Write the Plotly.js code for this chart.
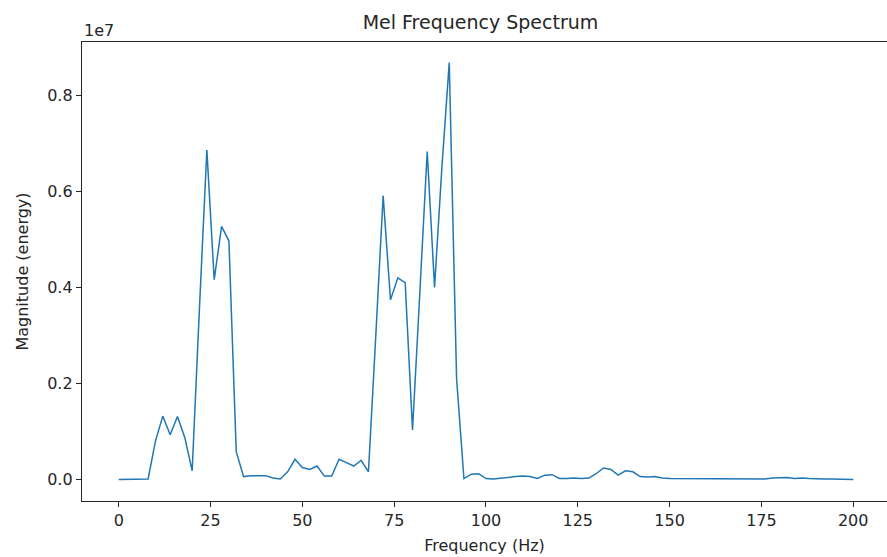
<!DOCTYPE html>
<html>
<head>
<meta charset="utf-8">
<script src="https://cdn.plot.ly/plotly-3.0.1.min.js"></script>
<style>
  html, body { margin: 0; padding: 0; background: #ffffff; }
  #chart { width: 887px; height: 557px; }
</style>
</head>
<body>
<div id="chart"></div>
<script>
// Frequency bins (Hz)
var frequency = [
  0, 2, 4, 6, 8, 10, 12, 14, 16, 18,
  20, 22, 24, 26, 28, 30, 32, 34, 36, 38,
  40, 42, 44, 46, 48, 50, 52, 54, 56, 58,
  60, 62, 64, 66, 68, 70, 72, 74, 76, 78,
  80, 82, 84, 86, 88, 90, 92, 94, 96, 98,
  100, 102, 104, 106, 108, 110, 112, 114, 116, 118,
  120, 122, 124, 126, 128, 130, 132, 134, 136, 138,
  140, 142, 144, 146, 148, 150, 152, 154, 156, 158,
  160, 162, 164, 166, 168, 170, 172, 174, 176, 178,
  180, 182, 184, 186, 188, 190, 192, 194, 196, 198,
  200
];

// Magnitude (energy), in units of 1e7
var magnitude_1e7 = [
  0.000, 0.000, 0.000, 0.000, 0.001, 0.080, 0.132, 0.093, 0.131, 0.087,
  0.018, 0.360, 0.686, 0.416, 0.527, 0.497, 0.058, 0.006, 0.008, 0.008,
  0.008, 0.003, 0.001, 0.016, 0.042, 0.025, 0.021, 0.028, 0.007, 0.007,
  0.042, 0.035, 0.028, 0.040, 0.016, 0.300, 0.591, 0.374, 0.420, 0.410,
  0.103, 0.390, 0.683, 0.400, 0.650, 0.868, 0.210, 0.002, 0.011, 0.012,
  0.002, 0.001, 0.003, 0.004, 0.006, 0.007, 0.006, 0.002, 0.009, 0.010,
  0.002, 0.002, 0.003, 0.002, 0.003, 0.012, 0.024, 0.021, 0.009, 0.018,
  0.016, 0.006, 0.005, 0.006, 0.003, 0.002, 0.002, 0.001, 0.001, 0.001,
  0.001, 0.001, 0.002, 0.001, 0.002, 0.002, 0.001, 0.001, 0.001, 0.003,
  0.004, 0.004, 0.002, 0.003, 0.002, 0.001, 0.001, 0.001, 0.001, 0.001,
  0.000
];

var xTicks = [0, 25, 50, 75, 100, 125, 150, 175, 200];
var yTicks = [0.0, 0.2, 0.4, 0.6, 0.8];

var FONT = 'DejaVu Sans, sans-serif';
var AX = '#262626';

var trace = {
  x: frequency,
  y: magnitude_1e7,
  type: 'scatter',
  mode: 'lines',
  line: { color: '#1f77b4', width: 1.5 },
  hoverinfo: 'x+y'
};

var layout = {
  width: 887,
  height: 557,
  margin: { l: 82, r: 0, t: 42, b: 56, pad: 0 },
  paper_bgcolor: '#ffffff',
  plot_bgcolor: '#ffffff',
  showlegend: false,
  font: { family: FONT, size: 16, color: AX },
  title: {
    text: 'Mel Frequency Spectrum',
    font: { family: FONT, size: 19, color: AX },
    x: 0.5417, xanchor: 'center',
    y: 0.96, yanchor: 'middle', yref: 'container'
  },
  xaxis: {
    range: [-10, 209.2],
    tickvals: xTicks,
    ticktext: xTicks.map(String),
    ticks: 'outside', ticklen: 5, tickwidth: 1, tickcolor: AX,
    showline: true, linecolor: AX, linewidth: 1.2, mirror: true,
    showgrid: false, zeroline: false,
    tickfont: { family: FONT, size: 16, color: AX },
    title: { text: 'Frequency (Hz)', font: { family: FONT, size: 16, color: AX }, standoff: 10 }
  },
  yaxis: {
    range: [-0.0448, 0.911],
    tickvals: yTicks,
    ticktext: yTicks.map(function (v) { return v.toFixed(1); }),
    ticks: 'outside', ticklen: 5, tickwidth: 1, tickcolor: AX,
    showline: true, linecolor: AX, linewidth: 1.2, mirror: false,
    showgrid: false, zeroline: false,
    tickfont: { family: FONT, size: 16, color: AX },
    title: { text: 'Magnitude (energy)', font: { family: FONT, size: 16, color: AX }, standoff: 14 }
  },
  annotations: [
    {
      text: '1e7', xref: 'paper', yref: 'paper', x: 0, y: 1,
      xanchor: 'left', yanchor: 'bottom', showarrow: false,
      font: { family: FONT, size: 16, color: AX }, yshift: 0
    }
  ]
};

Plotly.newPlot('chart', [trace], layout, { displayModeBar: false, staticPlot: true });
</script>
</body>
</html>
